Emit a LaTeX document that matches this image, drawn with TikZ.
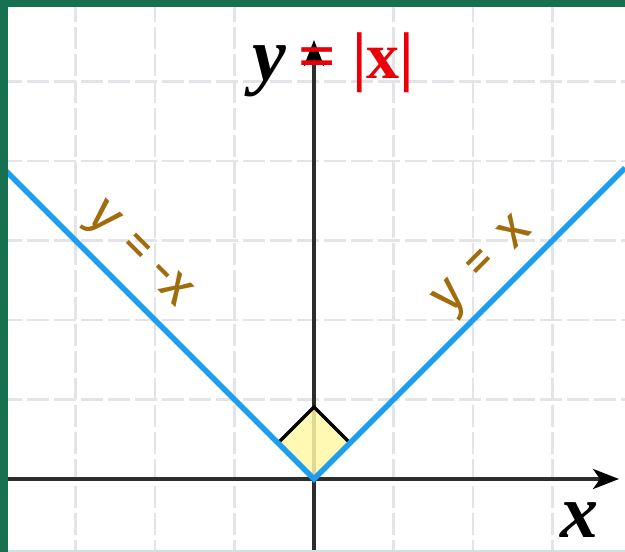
\documentclass[tikz,border=0pt]{standalone}
\usepackage{fontspec}
\setmainfont{Liberation Serif}
\newfontfamily\handfont{Fira Sans}
\usetikzlibrary{arrows.meta}
\definecolor{framec}{RGB}{23,112,80}
\definecolor{vblue}{RGB}{30,158,240}
\definecolor{lblc}{RGB}{160,108,12}
\definecolor{gridc}{RGB}{226,228,232}
\definecolor{palec}{RGB}{255,248,168}
\definecolor{axc}{RGB}{45,45,45}
\definecolor{redc}{RGB}{235,0,10}
\definecolor{stripc}{RGB}{205,226,222}
\begin{document}
\begin{tikzpicture}[x=1pt,y=-1pt,
  gridline/.style={gridc, line width=2.5pt, dash pattern=on 22pt off 5pt},
  axisline/.style={axc, line width=3.8pt, -{Stealth[length=26pt,width=20pt,inset=7pt,color=black,fill=black]}},
  vline/.style={vblue, line width=5.5pt, line join=miter},
  hand/.style={text=lblc, font=\handfont\fontsize{54}{54}\selectfont, inner sep=0pt},
  biglbl/.style={font=\fontsize{76}{76}\selectfont\bfseries\itshape, inner sep=0pt},
  redlbl/.style={text=redc, font=\fontsize{66}{66}\selectfont\bfseries, inner sep=0pt}
]
\useasboundingbox (0,0) rectangle (625,552);
\fill[white] (0,0) rectangle (625,552);
% grid
\foreach \gx in {75.5,155,234.5,393.5,473,552.5}
  \draw[gridline] (\gx,0) -- (\gx,552);
\foreach \gy in {2,81.5,161,240.5,320,399.5}
  \draw[gridline] (0,\gy) -- (625,\gy);
% origin and corners
\coordinate (O) at (314,479);
\coordinate (xs) at (0,479);
\coordinate (xe) at (619,479);
\coordinate (ys) at (314,552);
\coordinate (ye) at (314,40);
\coordinate (dl) at (278,443);
\coordinate (dt) at (314,407);
\coordinate (dr) at (350,443);
\coordinate (vl) at (0,165);
\coordinate (vr) at (625,168);
% axes
\draw[axisline] (ys) -- (ye);
\draw[axisline] (xs) -- (xe);
% right-angle marker
\fill[palec, opacity=0.85] (O) -- (dl) -- (dt) -- (dr) -- cycle;
\draw[black, line width=3.5pt, line join=miter] (dl) -- (dt) -- (dr);
% graph
\draw[vline] (vl) -- (O) -- (vr);
% labels
\node[hand, rotate=-45] (lneg) at (137,257) {y\hspace{0.3em}=\hspace{0.22em}-x};
\node[hand, rotate=45] (lpos) at (485,268) {y\hspace{0.35em}=\hspace{0.35em}x};
\node[biglbl, anchor=base west] (ylab) at (252,80) {y};
\node[redlbl, anchor=base west] (eq) at (298,78) {= |x|};
\node[biglbl, anchor=base west] (xlab) at (560,537) {x};
% frame
\fill[stripc] (0,550) rectangle (625,552);
\fill[framec] (0,0) rectangle (625,7);
\fill[framec] (0,0) rectangle (8,552);
\end{tikzpicture}
\end{document}
